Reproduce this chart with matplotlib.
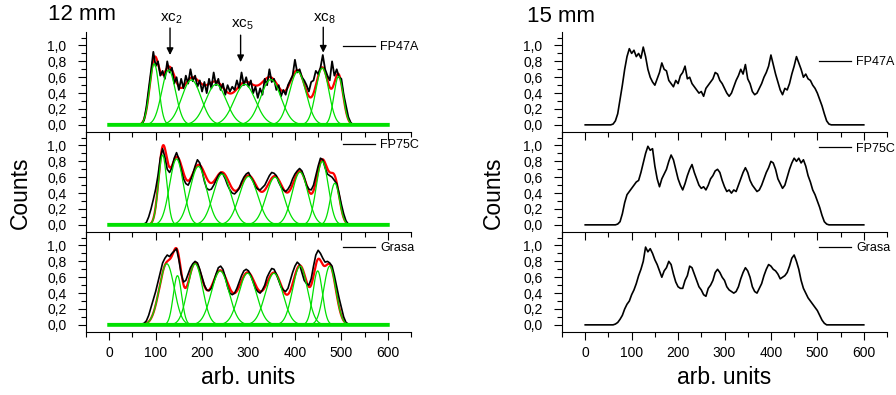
import numpy as np
import matplotlib.pyplot as plt
from matplotlib.ticker import MultipleLocator

plt.rcParams['font.family'] = ['Liberation Sans', 'DejaVu Sans']
plt.rcParams['mathtext.fontset'] = 'custom'
plt.rcParams['mathtext.rm'] = 'Liberation Sans'
plt.rcParams['mathtext.it'] = 'Liberation Sans:italic'

# samples, top to bottom
samples = ['FP47A', 'FP75C', 'Grasa']
titles = ['12 mm', '15 mm']

# 12 mm profiles, one value every 5 units starting at x0
m12_x0 = [60, 60, 60]
m12_counts = [
    [0.00, 0.00, 0.01, 0.06, 0.22, 0.45, 0.68, 0.92, 0.74, 0.80, 0.62, 0.68, 0.58, 0.80, 0.66, 0.72,
     0.52, 0.60, 0.44, 0.58, 0.46, 0.62, 0.52, 0.70, 0.55, 0.62, 0.48, 0.56, 0.42, 0.54, 0.40, 0.58,
     0.46, 0.66, 0.50, 0.58, 0.44, 0.52, 0.38, 0.50, 0.42, 0.48, 0.44, 0.56, 0.46, 0.66, 0.50, 0.60,
     0.48, 0.56, 0.40, 0.48, 0.34, 0.46, 0.38, 0.58, 0.50, 0.70, 0.54, 0.58, 0.44, 0.50, 0.36, 0.44,
     0.38, 0.50, 0.56, 0.62, 0.82, 0.66, 0.70, 0.60, 0.56, 0.50, 0.42, 0.54, 0.56, 0.68, 0.64, 0.72,
     0.88, 0.70, 0.62, 0.56, 0.80, 0.62, 0.70, 0.60, 0.58, 0.38, 0.24, 0.10, 0.03, 0.00, 0.00],
    [0.00, 0.00, 0.00, 0.01, 0.03, 0.10, 0.20, 0.32, 0.45, 0.62, 0.84, 0.96, 0.85, 0.70, 0.66, 0.72,
     0.84, 0.91, 0.83, 0.70, 0.58, 0.52, 0.50, 0.56, 0.64, 0.74, 0.82, 0.78, 0.68, 0.55, 0.46, 0.44,
     0.45, 0.50, 0.56, 0.62, 0.66, 0.64, 0.58, 0.50, 0.44, 0.40, 0.39, 0.42, 0.46, 0.54, 0.60, 0.64,
     0.66, 0.60, 0.55, 0.48, 0.45, 0.44, 0.47, 0.50, 0.56, 0.62, 0.66, 0.65, 0.62, 0.54, 0.48, 0.44,
     0.42, 0.45, 0.50, 0.58, 0.64, 0.68, 0.71, 0.68, 0.60, 0.50, 0.45, 0.44, 0.50, 0.62, 0.74, 0.84,
     0.82, 0.72, 0.64, 0.62, 0.60, 0.56, 0.52, 0.40, 0.26, 0.14, 0.05, 0.01, 0.00],
    [0.00, 0.00, 0.01, 0.02, 0.05, 0.12, 0.22, 0.32, 0.42, 0.54, 0.66, 0.78, 0.84, 0.88, 0.86, 0.90,
     0.93, 0.96, 0.82, 0.64, 0.54, 0.56, 0.64, 0.72, 0.77, 0.80, 0.78, 0.70, 0.60, 0.50, 0.44, 0.43,
     0.46, 0.54, 0.64, 0.72, 0.74, 0.70, 0.60, 0.48, 0.40, 0.38, 0.40, 0.46, 0.54, 0.62, 0.68, 0.70,
     0.68, 0.62, 0.54, 0.46, 0.42, 0.40, 0.44, 0.50, 0.60, 0.66, 0.71, 0.70, 0.64, 0.56, 0.48, 0.44,
     0.42, 0.46, 0.56, 0.66, 0.74, 0.79, 0.76, 0.66, 0.56, 0.52, 0.50, 0.58, 0.74, 0.88, 0.94, 0.90,
     0.84, 0.79, 0.80, 0.78, 0.74, 0.62, 0.48, 0.34, 0.22, 0.10, 0.03, 0.01, 0.00],
]

# 12 mm gaussian components: centre, height, width
m12_xc = [
    [97, 128, 177, 230, 292, 348, 406, 459, 494],
    [115, 145, 192, 243, 300, 357, 411, 459, 486],
    [124, 147, 185, 239, 298, 355, 411, 449, 475],
]
m12_amp = [
    [0.77, 0.69, 0.565, 0.51, 0.51, 0.57, 0.67, 0.715, 0.61],
    [0.88, 0.83, 0.735, 0.64, 0.61, 0.60, 0.665, 0.80, 0.525],
    [0.77, 0.62, 0.77, 0.68, 0.65, 0.65, 0.74, 0.68, 0.74],
]
m12_w = [
    [10, 15, 21, 22, 23, 22, 18, 14, 10],
    [9, 15, 18, 19, 20, 19, 17, 13, 10],
    [16, 9, 16, 19, 19, 19, 16, 10, 13],
]
m12_y0 = 0.0

# 15 mm profiles
m15_x0 = [55, 65, 60]
m15_counts = [
    [0.00, 0.01, 0.05, 0.14, 0.32, 0.50, 0.70, 0.86, 0.96, 0.90, 0.94, 0.86, 0.90, 0.84, 0.98, 0.86,
     0.70, 0.60, 0.54, 0.50, 0.58, 0.66, 0.78, 0.70, 0.68, 0.56, 0.52, 0.48, 0.56, 0.52, 0.62, 0.66,
     0.74, 0.58, 0.60, 0.52, 0.48, 0.44, 0.40, 0.42, 0.36, 0.46, 0.50, 0.54, 0.58, 0.66, 0.64, 0.56,
     0.52, 0.46, 0.40, 0.36, 0.40, 0.48, 0.56, 0.62, 0.70, 0.64, 0.76, 0.58, 0.52, 0.42, 0.38, 0.40,
     0.46, 0.52, 0.60, 0.66, 0.74, 0.88, 0.76, 0.64, 0.54, 0.44, 0.38, 0.46, 0.44, 0.52, 0.64, 0.74,
     0.86, 0.78, 0.70, 0.60, 0.64, 0.58, 0.56, 0.50, 0.46, 0.40, 0.32, 0.24, 0.14, 0.05, 0.01, 0.00],
    [0.00, 0.01, 0.04, 0.14, 0.28, 0.38, 0.42, 0.46, 0.50, 0.54, 0.56, 0.66, 0.78, 0.90, 0.99, 0.94,
     0.96, 0.74, 0.58, 0.48, 0.58, 0.64, 0.70, 0.80, 0.88, 0.82, 0.70, 0.58, 0.50, 0.44, 0.52, 0.62,
     0.70, 0.76, 0.66, 0.58, 0.50, 0.46, 0.48, 0.44, 0.50, 0.58, 0.62, 0.68, 0.70, 0.66, 0.56, 0.48,
     0.42, 0.44, 0.40, 0.44, 0.42, 0.50, 0.58, 0.66, 0.72, 0.66, 0.56, 0.50, 0.46, 0.42, 0.44, 0.50,
     0.58, 0.66, 0.72, 0.80, 0.78, 0.70, 0.58, 0.52, 0.46, 0.50, 0.60, 0.70, 0.78, 0.84, 0.80, 0.84,
     0.78, 0.82, 0.74, 0.62, 0.54, 0.44, 0.38, 0.30, 0.22, 0.12, 0.04, 0.01, 0.00],
    [0.00, 0.01, 0.03, 0.07, 0.12, 0.20, 0.26, 0.30, 0.38, 0.44, 0.52, 0.62, 0.70, 0.80, 0.98, 0.92,
     0.96, 0.90, 0.82, 0.76, 0.68, 0.60, 0.68, 0.72, 0.80, 0.76, 0.64, 0.54, 0.48, 0.46, 0.46, 0.56,
     0.62, 0.74, 0.72, 0.64, 0.56, 0.48, 0.44, 0.38, 0.36, 0.46, 0.50, 0.56, 0.66, 0.70, 0.66, 0.60,
     0.56, 0.48, 0.44, 0.42, 0.40, 0.42, 0.48, 0.58, 0.66, 0.72, 0.68, 0.60, 0.48, 0.42, 0.40, 0.46,
     0.52, 0.62, 0.70, 0.76, 0.74, 0.70, 0.68, 0.64, 0.58, 0.60, 0.62, 0.66, 0.74, 0.84, 0.88, 0.80,
     0.70, 0.56, 0.46, 0.40, 0.34, 0.30, 0.26, 0.22, 0.18, 0.12, 0.06, 0.02, 0.00],
]

xticks = [0, 100, 200, 300, 400, 500, 600]
yticks = [0.0, 0.2, 0.4, 0.6, 0.8, 1.0]
ytick_labels = ['0,0', '0,2', '0,4', '0,6', '0,8', '1,0']

# peak markers on the top 12 mm panel
xc_labels = ['xc$_2$', 'xc$_5$', 'xc$_8$']
xc_pos = [131, 283, 461]


def profile(x0, vals):
    x = x0 + 5 * np.arange(len(vals))
    return np.r_[0, x, 600], np.r_[0, vals, 0]


def gauss(x, xc, a, w):
    return a * np.exp(-(x - xc) ** 2 / (2.0 * w ** 2))


fig = plt.figure(figsize=(8.96, 3.95), dpi=100)
green = '#00e000'
xs = np.linspace(0, 600, 1201)

lefts = [86 / 896, 562 / 896]
leg_y = [[0.85, 0.865, 0.84], [0.70, 0.835, 0.84]]
axes = [[None] * 3, [None] * 3]

for col in range(2):
    for row in range(3):
        bottom_px = 132 + 100 * row
        ax = fig.add_axes([lefts[col], (395 - bottom_px) / 395, 325 / 896, 100 / 395])
        axes[col][row] = ax
        if col == 0:
            px, py = profile(m12_x0[row], m12_counts[row])
            fit = np.full_like(xs, m12_y0)
            for xc, a, w in zip(m12_xc[row], m12_amp[row], m12_w[row]):
                fit += gauss(xs, xc, a, w)
            ax.plot(xs, fit, color='red', lw=1.6, zorder=1)
            h, = ax.plot(px, py, color='black', lw=1.3 if row == 0 else 1.2, zorder=2)
            for xc, a, w in zip(m12_xc[row], m12_amp[row], m12_w[row]):
                ax.plot(xs, m12_y0 + gauss(xs, xc, a, w), color=green, lw=0.9, zorder=3)
            ax.plot(xs, np.full_like(xs, m12_y0), color=green, lw=2.8, zorder=4)
        else:
            px, py = profile(m15_x0[row], m15_counts[row])
            h, = ax.plot(px, py, color='black', lw=1.2)

        leg = ax.legend([h], [samples[row]], loc='center left', bbox_to_anchor=(0.79, leg_y[col][row]),
                        frameon=False, borderpad=0, borderaxespad=0, handlelength=2.6,
                        handletextpad=0.4, fontsize=9)
        for ln in leg.get_lines():
            ln.set_linewidth(0.9)

        ax.set_xlim(-50, 650)
        ax.set_ylim(-0.09, 1.17)
        ax.set_xticks(xticks)
        ax.xaxis.set_minor_locator(MultipleLocator(50))
        ax.set_yticks(yticks, ytick_labels)
        ax.yaxis.set_minor_locator(MultipleLocator(0.1))
        for s in ['top', 'right']:
            ax.spines[s].set_visible(False)
        for s in ['left', 'bottom']:
            ax.spines[s].set_linewidth(0.8)
        ax.tick_params(which='both', direction='out', width=0.8, labelsize=10)
        ax.tick_params(which='major', length=6)
        ax.tick_params(which='minor', length=3.5)
        ax.tick_params(axis='x', pad=4, labelbottom=(row == 2))
        ax.tick_params(axis='y', pad=8)
        ax.patch.set_alpha(0)

# xc arrows
top = axes[0][0]
tips = [0.88, 0.79, 0.91]
tails = [1.22, 1.13, 1.23]
txt_y = [1.335, 1.26, 1.335]
for lab, xp, tip, tail, ty in zip(xc_labels, xc_pos, tips, tails, txt_y):
    top.annotate('', xy=(xp, tip), xytext=(xp, tail), annotation_clip=False,
                 arrowprops=dict(arrowstyle='-|>', color='black', lw=1, mutation_scale=10,
                                 shrinkA=0, shrinkB=0))
    top.text(xp + 3, ty, lab, ha='center', va='center', fontsize=11, clip_on=False)

fig.text(48 / 896, 1 - 15 / 395, titles[0], ha='left', va='center', fontsize=16)
fig.text(527 / 896, 1 - 16 / 395, titles[1], ha='left', va='center', fontsize=16)
fig.text(20 / 896, 1 - 193 / 395, 'Counts', rotation=90, ha='center', va='center', fontsize=16.5)
fig.text(493 / 896, 1 - 193 / 395, 'Counts', rotation=90, ha='center', va='center', fontsize=16.5)
fig.text(248.5 / 896, 1 - 378 / 395, 'arb. units', ha='center', va='center', fontsize=16.5)
fig.text(724.5 / 896, 1 - 378 / 395, 'arb. units', ha='center', va='center', fontsize=16.5)

fig.savefig('out.png', dpi=100)
